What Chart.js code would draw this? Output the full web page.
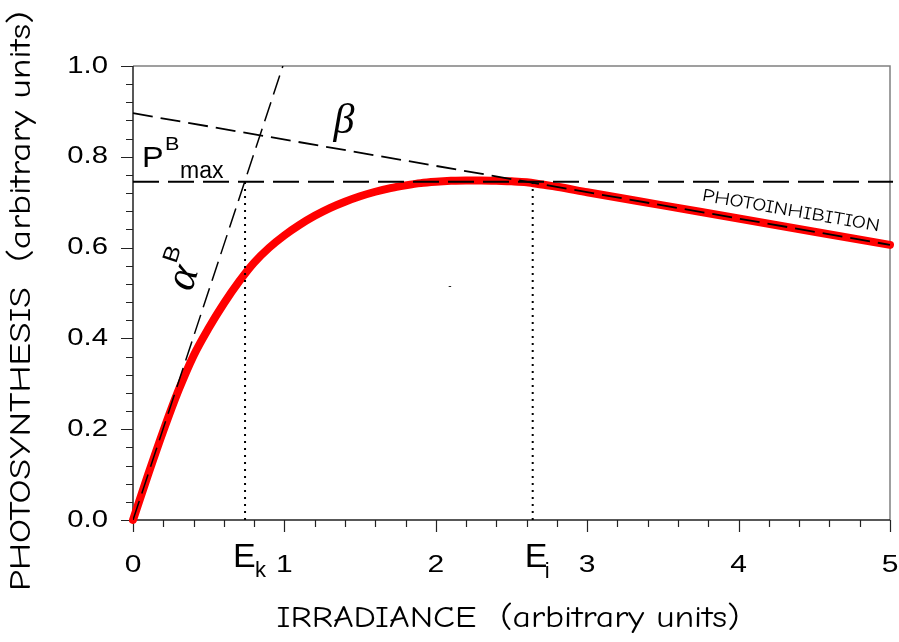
<!DOCTYPE html>
<html>
<head>
<meta charset="utf-8">
<script src="https://cdn.jsdelivr.net/npm/chart.js@4.4.1/dist/chart.umd.min.js"></script>
<style>
  html, body { margin: 0; padding: 0; background: #fff; }
  #wrap { width: 899px; height: 642px; position: relative; }
</style>
</head>
<body>
<div id="wrap"><canvas id="piChart"></canvas></div>
<script>
// P-I curve (photosynthesis vs irradiance, with photoinhibition)
const irradiance = [0, 0.1, 0.2, 0.3, 0.4, 0.5, 0.6, 0.7, 0.8, 0.9, 1.0, 1.1, 1.2, 1.3, 1.4,
                    1.5, 1.6, 1.7, 1.8, 1.9, 2.0, 2.1, 2.2, 2.3, 2.4, 2.5, 2.6, 2.7, 2.8,
                    3.0, 3.5, 4.0, 4.5, 5.0];
const photosynthesis = [0, 0.1, 0.196, 0.285, 0.362, 0.423, 0.477, 0.525, 0.567, 0.6, 0.627,
                        0.65, 0.67, 0.687, 0.701, 0.713, 0.723, 0.731, 0.737, 0.742, 0.745,
                        0.747, 0.748, 0.748, 0.747, 0.746, 0.744, 0.739, 0.734,
                        0.722, 0.693, 0.664, 0.635, 0.606];

// guide lines
const pMax = 0.745;
const alphaLineX = [0, 0.99];
const alphaLineY = [0, 1.0];
const betaLineX = [0, 5];
const betaLineY = [0.896, 0.606];
const eK = 0.74;
const eI = 2.64;

// axes
const xTickValues = [0, 1, 2, 3, 4, 5];
const xTickLabels = ["0", "1", "2", "3", "4", "5"];
const yTickValues = [0, 0.2, 0.4, 0.6, 0.8, 1.0];
const yTickLabels = ["0.0", "0.2", "0.4", "0.6", "0.8", "1.0"];
const xMinorStep = 0.2;
const yMinorStep = 0.04;

const SANS = '"Liberation Sans", Arial, sans-serif';
const SERIF = '"Liberation Serif", "Times New Roman", serif';
const COMIC = '"Comic Sans MS", "Comic Neue", "Open Sans", sans-serif';

function pts(xs, ys) {
    return xs.map((x, i) => ({ x: x, y: ys[i] }));
}

// draw text, optionally stretched horizontally (sx) or fitted to a width
function txt(ctx, s, x, y, font, o) {
    o = o || {};
    ctx.save();
    ctx.font = font;
    ctx.fillStyle = o.color || "#000";
    ctx.translate(x, y);
    if (o.rot) ctx.rotate(o.rot);
    let sx = o.sx || 1;
    if (o.width) sx = o.width / ctx.measureText(s).width;
    ctx.scale(sx, 1);
    ctx.textAlign = o.align || "left";
    ctx.textBaseline = o.base || "alphabetic";
    ctx.fillText(s, 0, 0);
    ctx.restore();
}

const framePlugin = {
    id: "frame",
    beforeDatasetsDraw(chart) {
        const ctx = chart.ctx;
        const a = chart.chartArea;
        const xs = chart.scales.x;
        const ys = chart.scales.y;
        ctx.save();
        // top and right border
        ctx.strokeStyle = "#808080";
        ctx.lineWidth = 1.5;
        ctx.beginPath();
        ctx.moveTo(a.left, a.top);
        ctx.lineTo(a.right, a.top);
        ctx.lineTo(a.right, a.bottom);
        ctx.stroke();
        // axes
        ctx.strokeStyle = "#222";
        ctx.beginPath();
        ctx.moveTo(a.left, a.top);
        ctx.lineTo(a.left, a.bottom);
        ctx.lineTo(a.right, a.bottom);
        ctx.stroke();
        // ticks
        ctx.lineWidth = 1.2;
        ctx.beginPath();
        for (let v = 0; v <= 5.0001; v += xMinorStep) {
            const px = Math.round(xs.getPixelForValue(v)) + 0.5;
            const major = Math.abs(v - Math.round(v)) < 1e-6;
            ctx.moveTo(px, a.bottom);
            ctx.lineTo(px, a.bottom + (major ? 12 : 7));
        }
        for (let v = 0; v <= 1.0001; v += yMinorStep) {
            const py = Math.round(ys.getPixelForValue(v)) + 0.5;
            const major = Math.abs(v * 5 - Math.round(v * 5)) < 1e-6;
            ctx.moveTo(a.left, py);
            ctx.lineTo(a.left - (major ? 12 : 7), py);
        }
        ctx.stroke();
        ctx.restore();

        // tick labels
        xTickValues.forEach((v, i) => {
            txt(ctx, xTickLabels[i], xs.getPixelForValue(v), a.bottom + 45, "24px " + SANS,
                { align: "center", base: "middle", sx: 1.25 });
        });
        yTickValues.forEach((v, i) => {
            txt(ctx, yTickLabels[i], a.left - 25, ys.getPixelForValue(v), "24px " + SANS,
                { align: "right", base: "middle", sx: 1.22 });
        });
    },
    afterDatasetsDraw(chart) {
        const ctx = chart.ctx;
        const xs = chart.scales.x;
        const ys = chart.scales.y;

        // E_k and E_i under the x axis
        const ek = xs.getPixelForValue(eK);
        txt(ctx, "E", ek - 12, 567, "34px " + SANS);
        txt(ctx, "k", ek + 10, 577, "22px " + SANS);
        const ei = xs.getPixelForValue(eI);
        txt(ctx, "E", ei - 8, 567, "34px " + SANS);
        txt(ctx, "i", ei + 12, 578, "22px " + SANS);

        // P^B_max
        const pm = ys.getPixelForValue(pMax);
        txt(ctx, "P", 142, 167, "30px " + SANS, { sx: 1.08 });
        txt(ctx, "B", 165, 150, "18px " + SANS, { sx: 1.2 });
        txt(ctx, "max", 180, pm - 4, "23px " + SANS);

        // beta
        txt(ctx, "\u03B2", 344, 133, "italic 42px " + SERIF, { align: "center" });

        // alpha^B along the initial slope
        const ang = Math.atan2(ys.getPixelForValue(1) - ys.getPixelForValue(0),
                               xs.getPixelForValue(0.99) - xs.getPixelForValue(0));
        ctx.save();
        ctx.translate(184, 278);
        ctx.rotate(ang);
        txt(ctx, "\u03B1", 0, 0, "italic 44px " + SERIF, { align: "center", base: "middle" });
        txt(ctx, "B", 19, -18, "22px " + SANS, { align: "center", base: "middle", sx: 1.15 });
        ctx.restore();

        // photoinhibition label along the beta line
        const bAng = Math.atan2(ys.getPixelForValue(betaLineY[1]) - ys.getPixelForValue(betaLineY[0]),
                                xs.getPixelForValue(betaLineX[1]) - xs.getPixelForValue(betaLineX[0]));
        txt(ctx, "PHOTOINHIBITION", 791, 211, "18px " + COMIC,
            { align: "center", base: "middle", rot: bAng, width: 180 });

        // stray mark
        txt(ctx, "-", 450, 286, "10px " + SANS, { align: "center", base: "middle" });

        // axis titles
        txt(ctx, "IRRADIANCE  (arbitrary units)", 508, 627, "30px " + COMIC,
            { align: "center", width: 463 });
        txt(ctx, "PHOTOSYNTHESIS  (arbitrary units)", 30, 301, "30px " + COMIC,
            { align: "center", rot: -Math.PI / 2, width: 580 });
    }
};

const dash = { borderColor: "#000", borderWidth: 1.8, pointRadius: 0, showLine: true, fill: false };

new Chart(document.getElementById("piChart"), {
    type: "scatter",
    data: {
        datasets: [
            { ...dash, data: pts(alphaLineX, alphaLineY), borderDash: [20, 8], borderWidth: 1.5 },
            { ...dash, data: pts(betaLineX, betaLineY), borderDash: [20, 8], clip: false },
            { ...dash, data: pts([0, 5.02], [pMax, pMax]), borderDash: [26, 9], clip: false },
            { ...dash, data: pts([eK, eK], [0, pMax]), borderDash: [2, 5], borderWidth: 2 },
            { ...dash, data: pts([eI, eI], [0, 0.743]), borderDash: [2, 5], borderWidth: 2 },
            {
                data: pts(irradiance, photosynthesis),
                showLine: true,
                borderColor: "#ff0000",
                borderWidth: 8,
                borderCapStyle: "round",
                borderJoinStyle: "round",
                cubicInterpolationMode: "monotone",
                pointRadius: 0,
                clip: false,
            },
        ],
    },
    options: {
        responsive: true,
        maintainAspectRatio: false,
        animation: false,
        layout: { padding: { left: 133, right: 9, top: 66, bottom: 122 } },
        plugins: { legend: { display: false }, tooltip: { enabled: false } },
        scales: {
            x: { type: "linear", min: 0, max: 5, display: false },
            y: { type: "linear", min: 0, max: 1, display: false },
        },
    },
    plugins: [framePlugin],
});
</script>
</body>
</html>
